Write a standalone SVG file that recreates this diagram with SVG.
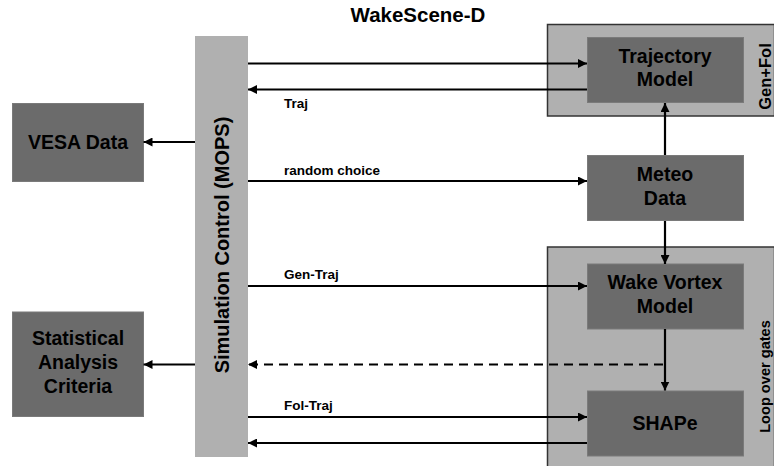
<svg xmlns="http://www.w3.org/2000/svg" width="774" height="466" viewBox="0 0 774 466">
<defs>
<marker id="ah" viewBox="0 0 10 10" refX="10" refY="5" markerWidth="9" markerHeight="9" markerUnits="userSpaceOnUse" orient="auto">
<path d="M0,0 L10,5 L0,10 z" fill="#000"/>
</marker>
</defs>
<style>
text{font-family:"Liberation Sans","Open Sans",sans-serif;font-weight:bold;fill:#000}
.big{font-size:19.5px;text-anchor:middle}
.lbl{font-size:13.5px}
.side{text-anchor:middle}
.dark{fill:#6b6b6b;stroke:#7a7a7a;stroke-width:1}
.light{fill:#b0b0b0}
.cont{fill:#b0b0b0;stroke:#333;stroke-width:1.5}
.ln{fill:none;stroke:#000;stroke-width:2.2}
.arr{marker-end:url(#ah)}
.dash{stroke-dasharray:9,6}
</style>
<rect width="774" height="466" fill="#fff"/>
<text id="title" x="418" y="22" class="big" style="font-size:20.5px">WakeScene-D</text>
<g id="genfol"><rect class="cont" x="547.5" y="24.5" width="227" height="91.5"/><text class="side" style="font-size:16.5px" transform="translate(771,76.5) rotate(-90)">Gen+Fol</text></g>
<g id="loop"><rect class="cont" x="547.5" y="247" width="227" height="222"/><text class="side" style="font-size:14.6px" transform="translate(770,376.5) rotate(-90)">Loop over gates</text></g>
<g id="mops"><rect class="light" x="195" y="36" width="53" height="421"/><text class="big" style="font-size:20px" transform="translate(228.5,245) rotate(-90)">Simulation Control (MOPS)</text></g>
<g id="vesa"><rect class="dark" x="12.5" y="103.5" width="131" height="78"/><text class="big" x="78" y="149">VESA Data</text></g>
<g id="stat"><rect class="dark" x="12.5" y="312" width="131" height="104.5"/><text class="big" x="78" y="345">Statistical</text><text class="big" x="78" y="369">Analysis</text><text class="big" x="78" y="393">Criteria</text></g>
<g id="traj"><rect class="dark" x="587.5" y="37.5" width="156" height="65"/><text class="big" x="665" y="63">Trajectory</text><text class="big" x="665" y="86">Model</text></g>
<g id="meteo"><rect class="dark" x="587.5" y="155.5" width="156" height="65"/><text class="big" x="665" y="181">Meteo</text><text class="big" x="665" y="205">Data</text></g>
<g id="wake"><rect class="dark" x="587.5" y="264" width="156" height="65"/><text class="big" x="665" y="289">Wake Vortex</text><text class="big" x="665" y="313">Model</text></g>
<g id="shape"><rect class="dark" x="587.5" y="391" width="156" height="65"/><text class="big" x="665" y="430">SHAPe</text></g>
<g id="connectors">
<line class="ln arr" x1="248" y1="63.5" x2="587" y2="63.5"/>
<line class="ln arr" x1="587" y1="89.5" x2="248" y2="89.5"/>
<line class="ln arr" x1="195" y1="142" x2="143.5" y2="142"/>
<line class="ln arr" x1="248" y1="181" x2="587" y2="181"/>
<line class="ln arr" x1="665" y1="155" x2="665" y2="103"/>
<line class="ln arr" x1="665" y1="221" x2="665" y2="264"/>
<line class="ln arr" x1="248" y1="286" x2="587" y2="286"/>
<line class="ln arr" x1="665" y1="329" x2="665" y2="390.5"/>
<line class="ln arr dash" x1="663" y1="364.5" x2="248" y2="364.5"/>
<line class="ln arr" x1="195" y1="364.5" x2="143.5" y2="364.5"/>
<line class="ln arr" x1="248" y1="417" x2="587" y2="417"/>
<line class="ln arr" x1="587" y1="443" x2="248" y2="443"/>
</g>
<text class="lbl" x="284" y="108">Traj</text>
<text class="lbl" x="284" y="175">random choice</text>
<text class="lbl" x="284" y="279">Gen-Traj</text>
<text class="lbl" x="284" y="410">Fol-Traj</text>
</svg>
